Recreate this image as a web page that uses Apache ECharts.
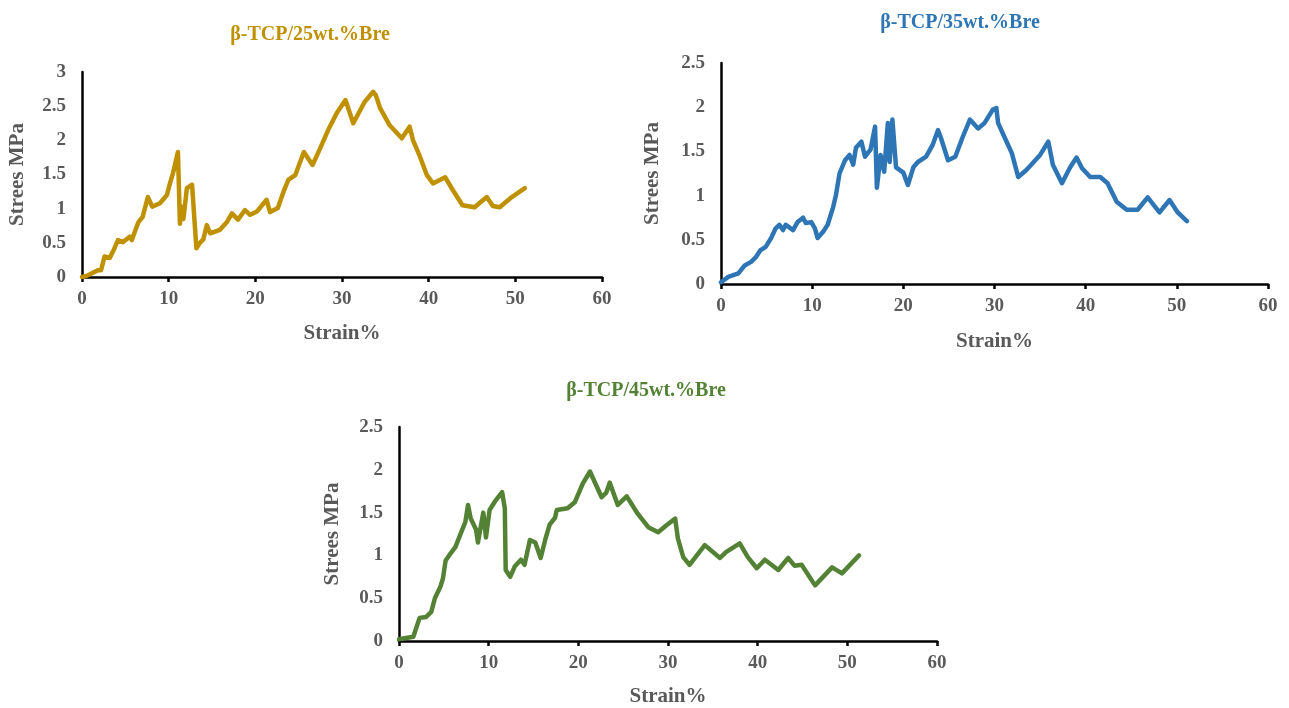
<!DOCTYPE html>
<html>
<head>
<meta charset="utf-8">
<title>Stress–strain curves</title>
<script src="https://cdn.jsdelivr.net/npm/echarts@6/dist/echarts.min.js"></script>
<style>
  html, body { margin: 0; padding: 0; background: #ffffff; }
  #chart { width: 1289px; height: 708px; }
</style>
</head>
<body>
<div id="chart"></div>
<script>
// Sample names shown as panel titles
const sampleNames = ['β-TCP/25wt.%Bre', 'β-TCP/35wt.%Bre', 'β-TCP/45wt.%Bre'];
const sampleColors = ['#BF9000', '#2E75B6', '#548235'];

// β-TCP/25wt.%Bre
const strain25 = [0, 0.6, 1.2, 1.9, 2.2, 2.6, 3.2, 3.6, 4.15, 4.7, 5.5, 5.75, 6.2, 6.5, 7.0, 7.6, 8.1, 9.0, 9.8, 10.15, 10.5, 11.07, 11.3, 11.5, 11.7, 12.1, 12.7, 12.9, 13.2, 13.6, 14.0, 14.4, 14.8, 15.9, 16.7, 17.3, 18.0, 18.8, 19.4, 20.2, 21.3, 21.7, 22.6, 23.2, 23.8, 24.6, 25.6, 26.6, 27.4, 28.4, 29.4, 30.4, 31.3, 32.6, 33.6, 33.9, 34.4, 35.5, 36.9, 37.8, 38.2, 39.0, 39.8, 40.5, 41.9, 42.8, 43.9, 45.3, 46.7, 47.4, 48.2, 49.6, 50.3, 51.1];
const stress25 = [0, 0.02, 0.06, 0.1, 0.1, 0.3, 0.28, 0.38, 0.54, 0.51, 0.59, 0.54, 0.7, 0.8, 0.88, 1.17, 1.03, 1.08, 1.2, 1.37, 1.52, 1.83, 0.78, 1.03, 0.85, 1.3, 1.35, 1.37, 0.42, 0.5, 0.55, 0.76, 0.64, 0.69, 0.8, 0.93, 0.84, 0.98, 0.91, 0.96, 1.13, 0.95, 1.01, 1.23, 1.42, 1.49, 1.83, 1.64, 1.86, 2.15, 2.40, 2.59, 2.25, 2.56, 2.71, 2.66, 2.47, 2.22, 2.03, 2.2, 2.0, 1.76, 1.49, 1.37, 1.46, 1.27, 1.05, 1.02, 1.17, 1.04, 1.02, 1.17, 1.23, 1.30];

// β-TCP/35wt.%Bre
const strain35 = [0, 0.8, 1.9, 2.6, 3.3, 3.8, 4.3, 4.9, 5.5, 6.0, 6.4, 6.8, 7.1, 7.9, 8.4, 9.0, 9.3, 9.9, 10.3, 10.6, 11.2, 11.7, 12.3, 12.6, 13.0, 13.6, 14.1, 14.5, 14.8, 15.4, 15.8, 16.4, 16.9, 17.1, 17.5, 17.9, 18.3, 18.5, 18.8, 19.2, 20.0, 20.5, 21.1, 21.6, 22.5, 23.2, 23.8, 24.1, 24.9, 25.7, 26.5, 27.3, 28.2, 28.9, 29.8, 30.2, 30.4, 31.1, 31.9, 32.6, 33.5, 35.0, 35.9, 36.4, 37.4, 38.3, 39.0, 39.6, 40.5, 41.6, 42.4, 43.4, 44.5, 45.7, 46.8, 48.1, 49.2, 50.1, 51.1];
const stress35 = [0.02, 0.08, 0.12, 0.21, 0.25, 0.3, 0.38, 0.42, 0.52, 0.63, 0.67, 0.61, 0.67, 0.61, 0.7, 0.75, 0.69, 0.7, 0.63, 0.52, 0.59, 0.67, 0.87, 1.0, 1.25, 1.4, 1.46, 1.35, 1.54, 1.61, 1.44, 1.52, 1.78, 1.09, 1.46, 1.27, 1.82, 1.38, 1.86, 1.32, 1.26, 1.12, 1.32, 1.38, 1.44, 1.57, 1.74, 1.66, 1.40, 1.44, 1.66, 1.86, 1.76, 1.82, 1.97, 1.99, 1.82, 1.66, 1.48, 1.21, 1.29, 1.46, 1.61, 1.35, 1.14, 1.32, 1.43, 1.31, 1.21, 1.21, 1.14, 0.93, 0.84, 0.84, 0.98, 0.81, 0.95, 0.81, 0.71];

// β-TCP/45wt.%Bre
const strain45 = [0, 0.2, 1.6, 2.3, 3.0, 3.6, 4.0, 4.6, 4.9, 5.2, 5.8, 6.3, 6.9, 7.4, 7.7, 8.0, 8.6, 8.8, 9.4, 9.7, 10.1, 10.7, 11.5, 11.8, 11.9, 12.4, 12.9, 13.6, 14.0, 14.6, 15.2, 15.8, 16.3, 16.8, 17.4, 17.6, 18.8, 19.6, 20.5, 21.3, 21.9, 22.6, 23.1, 23.5, 24.4, 25.4, 26.6, 27.8, 28.9, 29.8, 30.8, 31.1, 31.7, 32.4, 34.1, 35.8, 36.5, 38.0, 38.9, 39.9, 40.8, 42.3, 43.4, 44.1, 44.9, 46.4, 48.3, 49.4, 51.3];
const stress45 = [0.02, 0.03, 0.05, 0.27, 0.28, 0.34, 0.5, 0.63, 0.73, 0.94, 1.03, 1.1, 1.26, 1.39, 1.59, 1.43, 1.30, 1.15, 1.5, 1.21, 1.53, 1.63, 1.74, 1.55, 0.83, 0.75, 0.87, 0.95, 0.89, 1.18, 1.15, 0.97, 1.18, 1.36, 1.44, 1.53, 1.55, 1.62, 1.84, 1.98, 1.84, 1.68, 1.73, 1.85, 1.59, 1.69, 1.49, 1.33, 1.27, 1.35, 1.43, 1.20, 0.98, 0.89, 1.12, 0.97, 1.04, 1.14, 0.98, 0.85, 0.95, 0.83, 0.97, 0.88, 0.89, 0.65, 0.86, 0.79, 1.0];

// Axis ranges
const strainMax = 60, strainStep = 10;
const stressMax = [3, 2.5, 2.5], stressStep = 0.5;
const xAxisName = 'Strain%';
const yAxisName = 'Strees MPa';

const strains = [strain25, strain35, strain45];
const stresses = [stress25, stress35, stress45];

const FONT = "'Liberation Serif', 'Times New Roman', serif";
const LABEL_COLOR = '#595959';

// Panel placement (px)
const panels = [
  { left: 82, top: 72, width: 520, height: 205, titleX: 305, titleY: 20, xGap: 46, yGap: 54 },
  { left: 721, top: 63, width: 547, height: 221, titleX: 955, titleY: 8, xGap: 47, yGap: 58 },
  { left: 399, top: 427, width: 538, height: 214, titleX: 641, titleY: 376, xGap: 45, yGap: 56 }
];

const pair = (xs, ys) => xs.map((x, i) => [x, ys[i]]);

const option = {
  animation: false,
  backgroundColor: '#ffffff',
  title: panels.map((p, i) => ({
    text: sampleNames[i],
    left: p.titleX,
    top: p.titleY,
    textAlign: 'center',
    textStyle: { fontFamily: FONT, fontWeight: 'bold', fontSize: 20, color: sampleColors[i] }
  })),
  grid: panels.map(p => ({ left: p.left, top: p.top, width: p.width, height: p.height, containLabel: false })),
  xAxis: panels.map((p, i) => ({
    type: 'value', gridIndex: i, min: 0, max: strainMax, interval: strainStep,
    name: xAxisName, nameLocation: 'middle', nameGap: p.xGap,
    nameTextStyle: { fontFamily: FONT, fontWeight: 'bold', fontSize: 21, color: LABEL_COLOR },
    axisLine: { lineStyle: { color: '#000000', width: 2.5 } },
    axisTick: { show: true, inside: false, length: 5, lineStyle: { color: '#000000', width: 2.5 } },
    axisLabel: { fontFamily: FONT, fontWeight: 'bold', fontSize: 19, color: LABEL_COLOR, margin: 13 },
    splitLine: { show: false }
  })),
  yAxis: panels.map((p, i) => ({
    type: 'value', gridIndex: i, min: 0, max: stressMax[i], interval: stressStep,
    name: yAxisName, nameLocation: 'middle', nameGap: p.yGap, nameRotate: 90,
    nameTextStyle: { fontFamily: FONT, fontWeight: 'bold', fontSize: 21, color: LABEL_COLOR },
    axisLine: { show: true, lineStyle: { color: '#000000', width: 2.5 } },
    axisTick: { show: false },
    axisLabel: { fontFamily: FONT, fontWeight: 'bold', fontSize: 19, color: LABEL_COLOR, margin: 16 },
    splitLine: { show: false }
  })),
  series: panels.map((p, i) => ({
    type: 'line', name: sampleNames[i], xAxisIndex: i, yAxisIndex: i,
    data: pair(strains[i], stresses[i]),
    showSymbol: false, smooth: false,
    lineStyle: { color: sampleColors[i], width: 4.5, cap: 'round', join: 'round' }
  }))
};

const chart = echarts.init(document.getElementById('chart'), null, { renderer: 'canvas' });
chart.setOption(option);
</script>
</body>
</html>
